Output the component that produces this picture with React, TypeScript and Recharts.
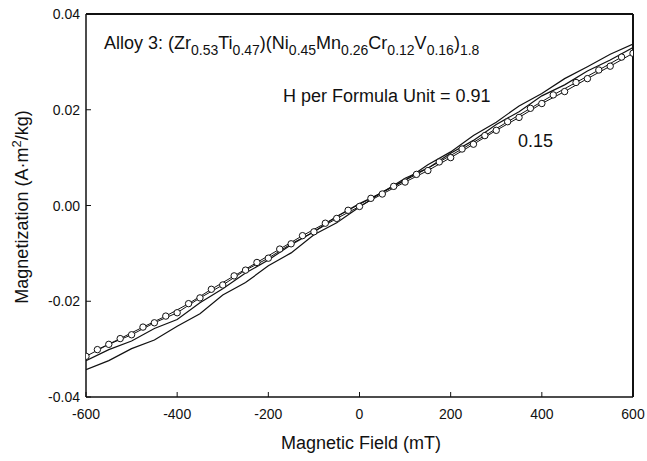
import { LineChart, Line, XAxis, YAxis } from "recharts";

// field steps (mT)
const fieldMain = [
  -600, -550, -500, -450, -400, -350, -300, -250, -200, -150, -100, -50, 0,
  50, 100, 150, 200, 250, 300, 350, 400, 450, 500, 550, 600,
];
const fieldOffset = [
  -575, -525, -475, -425, -375, -325, -275, -225, -175, -125, -75, -25, 25,
  75, 125, 175, 225, 275, 325, 375, 425, 475, 525, 575,
];

// H = 0.91, solid lines (two sweeps)
const solidUp = [
  -0.0343, -0.0324, -0.0299, -0.0281, -0.0252, -0.0226, -0.0187, -0.0161,
  -0.0126, -0.0099, -0.0061, -0.0036, -0.0003, 0.0028, 0.0053, 0.0085, 0.0112,
  0.0146, 0.0174, 0.0208, 0.0234, 0.0265, 0.029, 0.0316, 0.0337,
];
const solidDown = [
  -0.0324, -0.0301, -0.0283, -0.0257, -0.0238, -0.0203, -0.0174, -0.0141,
  -0.0114, -0.0082, -0.0055, -0.0023, 0.0004, 0.0027, 0.0057, 0.0078, 0.0109,
  0.0136, 0.0169, 0.0196, 0.0229, 0.0252, 0.0281, 0.0304, 0.033,
];

// H = 0.15, open circles (two sweeps)
const circleUp = [
  -0.0315, -0.029, -0.027, -0.0245, -0.0224, -0.0193, -0.0166, -0.0135, -0.011,
  -0.008, -0.0055, -0.0027, -0.0002, 0.0024, 0.0049, 0.0073, 0.01, 0.0128,
  0.0157, 0.0184, 0.0213, 0.0238, 0.0265, 0.0291, 0.0318,
];
const circleDown = [
  -0.0301, -0.0278, -0.0254, -0.0231, -0.0205, -0.0175, -0.0147, -0.0119,
  -0.0091, -0.0063, -0.0037, -0.001, 0.0015, 0.004, 0.0065, 0.0091, 0.0118,
  0.0146, 0.0175, 0.0203, 0.0231, 0.0257, 0.0283, 0.031,
];

const xTicks = [-600, -400, -200, 0, 200, 400, 600];
const yTicks = [-0.04, -0.02, 0, 0.02, 0.04];

const pairs = (xs: number[], ys: number[]) =>
  xs.map((x, i) => ({ x, y: ys[i] }));

const FONT = "'Liberation Sans', Arial, sans-serif";
const INK = "#111";

const BottomTick = ({ x, y, payload }: any) => (
  <g>
    <line x1={x} x2={x} y1={y} y2={y - 5} stroke={INK} strokeWidth={1} />
    <text x={x} y={y + 22} textAnchor="middle" fontSize={14} fill={INK} fontFamily={FONT}>
      {payload.value}
    </text>
  </g>
);

const LeftTick = ({ x, y, payload }: any) => (
  <g>
    <line x1={x} x2={x + 5} y1={y} y2={y} stroke={INK} strokeWidth={1} />
    <text x={x - 6} y={y + 5} textAnchor="end" fontSize={14} fill={INK} fontFamily={FONT}>
      {payload.value.toFixed(2)}
    </text>
  </g>
);

const TopTick = ({ x, y }: any) => (
  <line x1={x} x2={x} y1={y} y2={y + 5} stroke={INK} strokeWidth={1} />
);

const RightTick = ({ x, y }: any) => (
  <line x1={x} x2={x - 5} y1={y} y2={y} stroke={INK} strokeWidth={1} />
);

const sub = { fontSize: 14, verticalAlign: "-6px" } as const;

export default function App() {
  return (
    <div
      style={{
        position: "absolute",
        left: 0,
        top: 0,
        width: 647,
        height: 461,
        background: "#fff",
        fontFamily: FONT,
        color: INK,
      }}
    >
      <LineChart
        width={647}
        height={461}
        margin={{ top: 13, right: 13, bottom: 0, left: 0 }}
      >
        <XAxis
          xAxisId="b"
          type="number"
          dataKey="x"
          domain={[-600, 600]}
          ticks={xTicks}
          height={64}
          tickSize={0}
          tickMargin={0}
          tick={<BottomTick />}
          axisLine={{ stroke: INK, strokeWidth: 1.5 }}
          allowDataOverflow
        />
        <XAxis
          xAxisId="t"
          orientation="top"
          type="number"
          dataKey="x"
          domain={[-600, 600]}
          ticks={xTicks.slice(1, -1)}
          height={1}
          tickSize={0}
          tickMargin={0}
          tick={<TopTick />}
          axisLine={{ stroke: INK, strokeWidth: 2 }}
        />
        <YAxis
          yAxisId="l"
          type="number"
          domain={[-0.04, 0.04]}
          ticks={yTicks}
          width={86}
          tickSize={0}
          tickMargin={0}
          tick={<LeftTick />}
          axisLine={{ stroke: INK, strokeWidth: 1.5 }}
          allowDataOverflow
        />
        <YAxis
          yAxisId="r"
          orientation="right"
          type="number"
          domain={[-0.04, 0.04]}
          ticks={yTicks.slice(1, -1)}
          width={1}
          tickSize={0}
          tickMargin={0}
          tick={<RightTick />}
          axisLine={{ stroke: INK, strokeWidth: 2 }}
        />
        <Line
          xAxisId="b"
          yAxisId="l"
          data={pairs(fieldMain, solidUp)}
          dataKey="y"
          type="linear"
          stroke={INK}
          strokeWidth={1.2}
          dot={false}
          isAnimationActive={false}
        />
        <Line
          xAxisId="b"
          yAxisId="l"
          data={pairs(fieldMain, solidDown)}
          dataKey="y"
          type="linear"
          stroke={INK}
          strokeWidth={1.2}
          dot={false}
          isAnimationActive={false}
        />
        <Line
          xAxisId="b"
          yAxisId="l"
          data={pairs(fieldMain, circleUp)}
          dataKey="y"
          type="linear"
          stroke={INK}
          strokeWidth={1}
          dot={{ r: 3.2, fill: "#fff", stroke: INK, strokeWidth: 1 }}
          isAnimationActive={false}
        />
        <Line
          xAxisId="b"
          yAxisId="l"
          data={pairs(fieldOffset, circleDown)}
          dataKey="y"
          type="linear"
          stroke={INK}
          strokeWidth={1}
          dot={{ r: 3.2, fill: "#fff", stroke: INK, strokeWidth: 1 }}
          isAnimationActive={false}
        />
      </LineChart>

      <div style={{ position: "absolute", left: 104, top: 33, fontSize: 18, whiteSpace: "nowrap" }}>
        Alloy 3: (Zr<span style={sub}>0.53</span>Ti<span style={sub}>0.47</span>)(Ni<span style={sub}>0.45</span>Mn<span style={sub}>0.26</span>Cr<span style={sub}>0.12</span>V<span style={sub}>0.16</span>)<span style={sub}>1.8</span>
      </div>
      <div style={{ position: "absolute", left: 283, top: 86, fontSize: 18, whiteSpace: "nowrap" }}>
        H per Formula Unit = 0.91
      </div>
      <div style={{ position: "absolute", left: 518, top: 131, fontSize: 18, whiteSpace: "nowrap" }}>
        0.15
      </div>
      <div
        style={{
          position: "absolute",
          left: 361,
          top: 443,
          transform: "translate(-50%, -50%)",
          fontSize: 18,
          whiteSpace: "nowrap",
        }}
      >
        Magnetic Field (mT)
      </div>
      <div
        style={{
          position: "absolute",
          left: 21,
          top: 207,
          transform: "translate(-50%, -50%) rotate(-90deg)",
          fontSize: 18,
          whiteSpace: "nowrap",
        }}
      >
        Magnetization (A·m<sup style={{ fontSize: 13 }}>2</sup>/kg)
      </div>
    </div>
  );
}
